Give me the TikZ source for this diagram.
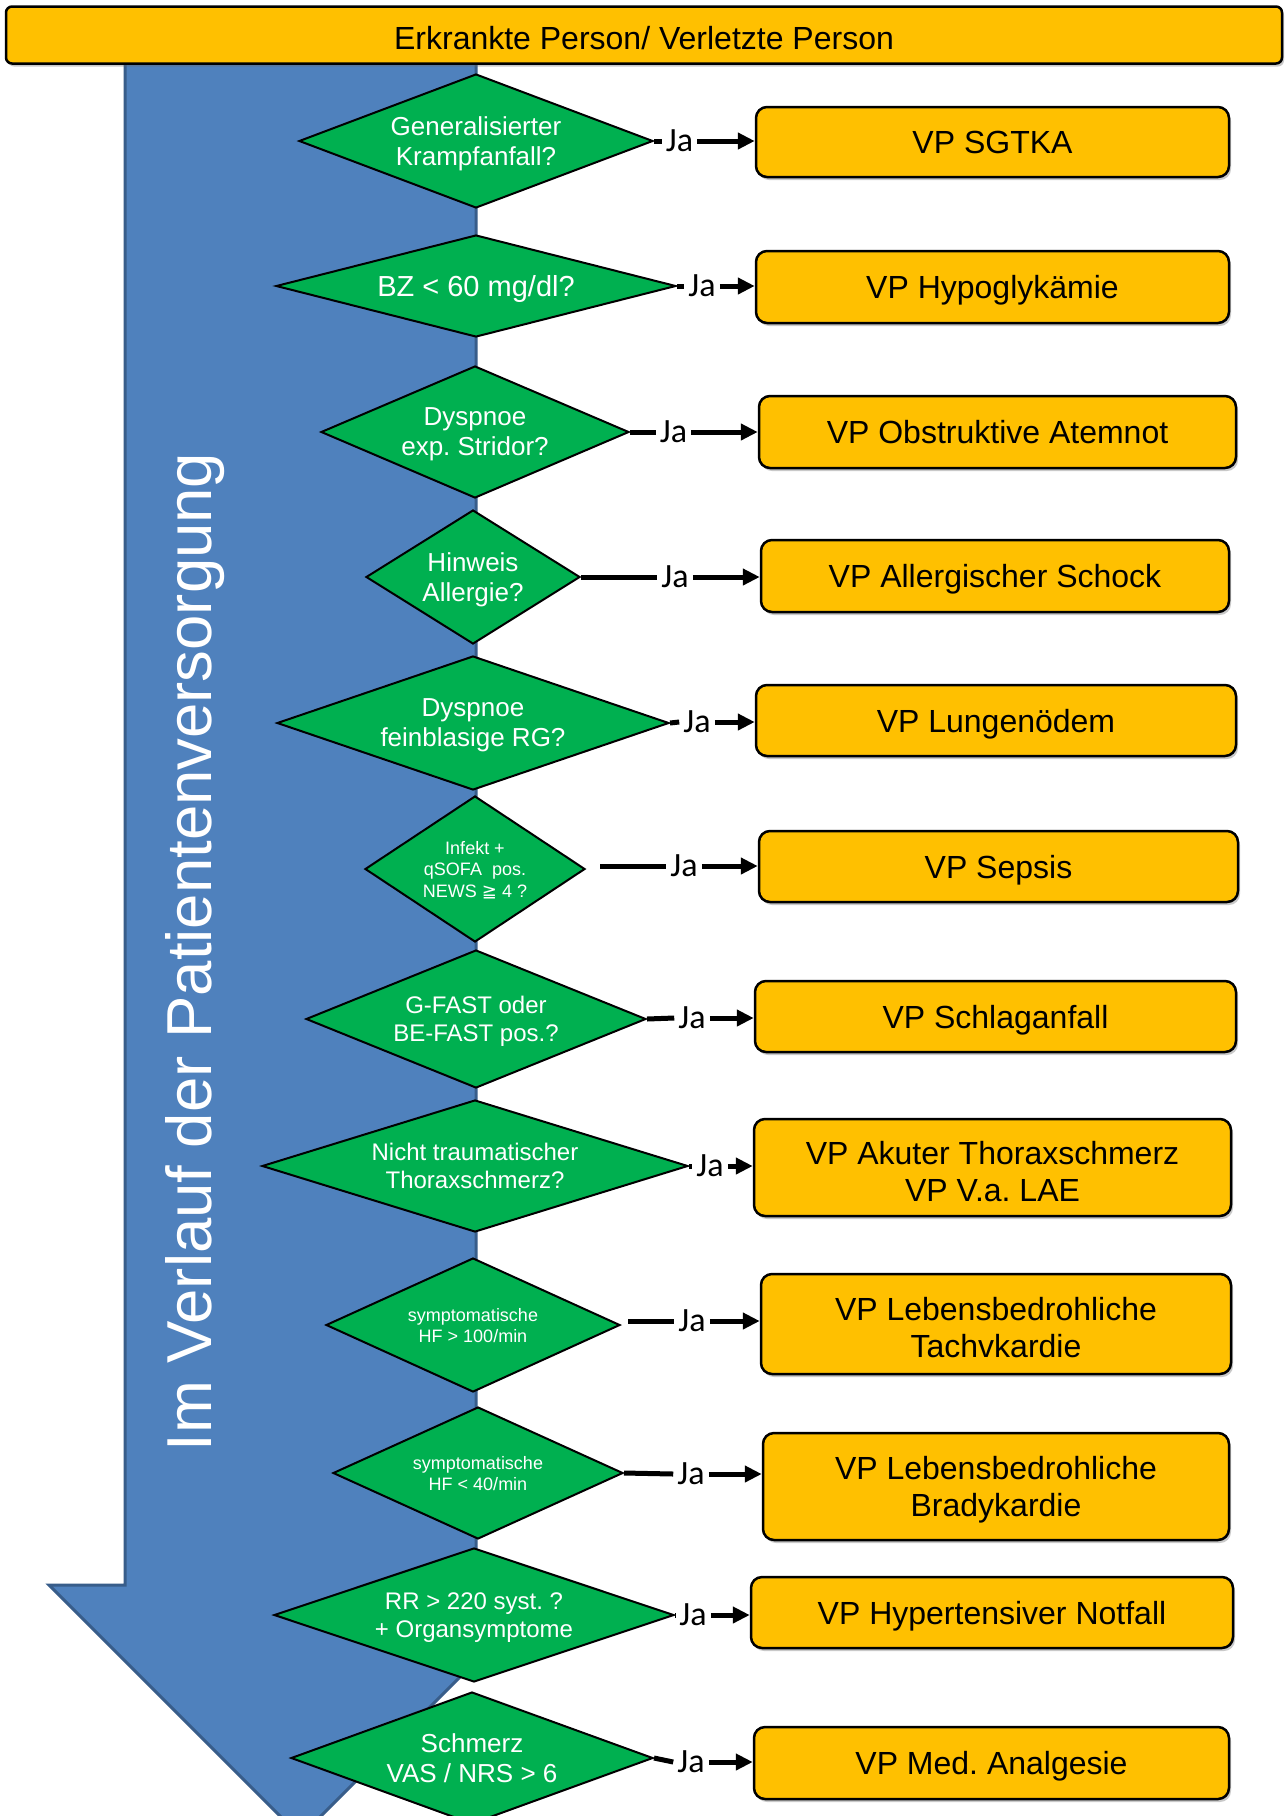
\documentclass[tikz,border=0pt]{standalone}
\usepackage{fontspec}
\setmainfont{Liberation Sans}
\newfontfamily\jafont{Carlito}
\newfontfamily\djv{DejaVu Sans}
\usetikzlibrary{shapes.geometric,arrows.meta,shadows}
\definecolor{pgreen}{HTML}{00B050}
\definecolor{pyellow}{HTML}{FFC000}
\definecolor{pblue}{HTML}{4F81BD}
\definecolor{pbluedark}{HTML}{385D8A}
\tikzset{
  dia/.style={diamond, draw=black, line width=2pt, fill=pgreen, text=white, inner sep=0pt, align=center, text depth=0pt},
  vpbox/.style={rectangle, rounded corners=11pt, draw=black, line width=2.5pt, fill=pyellow, align=center, inner sep=0pt,
    font=\fontsize{32}{37}\selectfont,
    drop shadow={shadow xshift=2pt, shadow yshift=-3pt, opacity=0.35, fill=black!60}},
  oneline/.style={text height=23pt, text depth=0pt},
  ja/.style={fill=white, inner xsep=4pt, inner ysep=1pt, font=\jafont\fontsize{34}{40}\selectfont},
  conn/.style={line width=5pt, black},
  arr/.style={line width=5pt, black, -{Triangle[length=17pt,width=16pt]}},
}
\begin{document}
\frenchspacing
\begin{tikzpicture}[x=1pt,y=-1pt]
\useasboundingbox (0,0) rectangle (1287,1816);
\clip (0,0) rectangle (1287,1816);
\fill[white] (0,0) rectangle (1287,1816);

% big blue arrow
\draw[line width=3pt, draw=pbluedark, fill=pblue, line join=miter]
  (125,40) -- (125,1585) -- (49,1585) -- (300.5,1836.5) -- (552,1585) -- (476,1585) -- (476,40) -- cycle;
\node[rotate=90, anchor=base, text=white, font=\fontsize{63.5}{70}\selectfont, inner sep=0pt] (lbl) at (211,952) {Im Verlauf der Patientenversorgung};

% title
\node[rectangle, rounded corners=6pt, draw=black, line width=2.5pt, fill=pyellow, minimum width=1276pt, minimum height=57pt,
  inner sep=0pt, font=\fontsize{32}{37}\selectfont, text height=28pt, text depth=0pt,
  drop shadow={shadow xshift=2pt, shadow yshift=-3pt, opacity=0.35, fill=black!60}] (top) at (644,35) {Erkrankte Person/ Verletzte Person};

% diamonds
\node[dia, shape aspect=2.64, minimum width=354pt, minimum height=134pt, font=\fontsize{26}{30}\selectfont] (d1) at (476,141) {Generalisierter\\Krampfanfall?};
\node[dia, shape aspect=3.92, minimum width=400pt, minimum height=102pt, font=\fontsize{29}{33}\selectfont] (d2) at (476,286) {BZ < 60 mg/dl?};
\node[dia, shape aspect=2.33, minimum width=308pt, minimum height=132pt, font=\fontsize{26}{30}\selectfont] (d3) at (475,432) {Dyspnoe\\exp. Stridor?};
\node[dia, shape aspect=1.6, minimum width=214pt, minimum height=134pt, font=\fontsize{26}{30}\selectfont] (d4) at (473,577) {Hinweis\\Allergie?};
\node[dia, shape aspect=2.93, minimum width=392pt, minimum height=134pt, font=\fontsize{26}{30}\selectfont] (d5) at (473,723) {Dyspnoe\\feinblasige RG?};
\node[dia, shape aspect=1.51, minimum width=220pt, minimum height=146pt, font=\fontsize{18}{21.5}\selectfont] (d6) at (475,869) {Infekt +\\qSOFA\ \ pos.\\NEWS {\djv ≧} 4 ?};
\node[dia, shape aspect=2.46, minimum width=340pt, minimum height=138pt, font=\fontsize{24}{28}\selectfont] (d7) at (476,1019) {G-FAST oder\\BE-FAST pos.?};
\node[dia, shape aspect=3.23, minimum width=426pt, minimum height=132pt, font=\fontsize{24}{28}\selectfont] (d8) at (475,1166) {Nicht traumatischer\\Thoraxschmerz?};
\node[dia, shape aspect=2.19, minimum width=294pt, minimum height=134pt, font=\fontsize{18}{21}\selectfont] (d9) at (473,1325) {symptomatische\\HF > 100/min};
\node[dia, shape aspect=2.2, minimum width=290pt, minimum height=132pt, font=\fontsize{18}{21}\selectfont] (d10) at (478,1473) {symptomatische\\HF < 40/min};
\node[dia, shape aspect=2.99, minimum width=400pt, minimum height=134pt, font=\fontsize{24}{28}\selectfont] (d11) at (474,1615) {RR > 220 syst. ?\\+ Organsymptome};
\node[dia, shape aspect=2.74, minimum width=362pt, minimum height=132pt, font=\fontsize{26}{30}\selectfont] (d12) at (472,1758) {Schmerz\\VAS / NRS > 6};

% boxes
\node[vpbox, oneline, minimum width=473pt, minimum height=70pt] (b1) at (992.5,142) {VP SGTKA};
\node[vpbox, oneline, minimum width=473pt, minimum height=72pt] (b2) at (992.5,287) {VP Hypoglykämie};
\node[vpbox, oneline, minimum width=477pt, minimum height=72pt] (b3) at (997.5,432) {VP Obstruktive Atemnot};
\node[vpbox, oneline, minimum width=468pt, minimum height=72pt] (b4) at (995,576) {VP Allergischer Schock};
\node[vpbox, oneline, minimum width=480pt, minimum height=71pt] (b5) at (996,720.5) {VP Lungenödem};
\node[vpbox, oneline, minimum width=479pt, minimum height=71pt] (b6) at (998.5,866.5) {VP Sepsis};
\node[vpbox, oneline, minimum width=481pt, minimum height=71pt] (b7) at (995.5,1016.5) {VP Schlaganfall};
\node[vpbox, minimum width=477pt, minimum height=97pt] (b8) at (992.5,1167.5) {\rule{0pt}{32pt}VP Akuter Thoraxschmerz\\VP V.a. LAE};
\node[vpbox, minimum width=470pt, minimum height=100pt] (b9) at (996,1324) {\rule{0pt}{30pt}VP Lebensbedrohliche\\Tachvkardie};
\node[vpbox, minimum width=466pt, minimum height=107pt] (b10) at (996,1486.5) {\rule{0pt}{30pt}VP Lebensbedrohliche\\Bradykardie};
\node[vpbox, oneline, minimum width=482pt, minimum height=71pt] (b11) at (992,1612.5) {VP Hypertensiver Notfall};
\node[vpbox, oneline, minimum width=475pt, minimum height=72pt] (b12) at (991.5,1763) {VP Med. Analgesie};

% Ja labels
\node[ja] (j1) at (679.5,141) {Ja};
\node[ja] (j2) at (702,286) {Ja};
\node[ja] (j3) at (673.5,432) {Ja};
\node[ja] (j4) at (675,577) {Ja};
\node[ja] (j5) at (697,722) {Ja};
\node[ja] (j6) at (684,866) {Ja};
\node[ja] (j7) at (692,1018) {Ja};
\node[ja] (j8) at (710,1166) {Ja};
\node[ja] (j9) at (692,1321) {Ja};
\node[ja] (j10) at (691,1474) {Ja};
\node[ja] (j11) at (693,1615) {Ja};
\node[ja] (j12) at (691,1762) {Ja};
\coordinate (s6) at (600,866);
\coordinate (s9) at (628,1321);

% connectors
\draw[conn] (d1.east) -- (j1.west);   \draw[arr] (j1.east) -- (j1.east -| b1.west);
\draw[conn] (d2.east) -- (j2.west);   \draw[arr] (j2.east) -- (j2.east -| b2.west);
\draw[conn] (d3.east) -- (j3.west);   \draw[arr] (j3.east) -- (j3.east -| b3.west);
\draw[conn] (d4.east) -- (j4.west);   \draw[arr] (j4.east) -- (j4.east -| b4.west);
\draw[conn] (d5.east) -- (j5.west);   \draw[arr] (j5.east) -- (j5.east -| b5.west);
\draw[conn] (s6) -- (j6.west);        \draw[arr] (j6.east) -- (j6.east -| b6.west);
\draw[conn] (d7.east) -- (j7.west);   \draw[arr] (j7.east) -- (j7.east -| b7.west);
\draw[conn] (d8.east) -- (j8.west);   \draw[arr] (j8.east) -- (j8.east -| b8.west);
\draw[conn] (s9) -- (j9.west);        \draw[arr] (j9.east) -- (j9.east -| b9.west);
\draw[conn] (d10.east) -- (j10.west); \draw[arr] (j10.east) -- (j10.east -| b10.west);
\draw[conn] (d11.east) -- (j11.west); \draw[arr] (j11.east) -- (j11.east -| b11.west);
\draw[conn] (d12.east) -- (j12.west); \draw[arr] (j12.east) -- (j12.east -| b12.west);
\end{tikzpicture}
\end{document}
